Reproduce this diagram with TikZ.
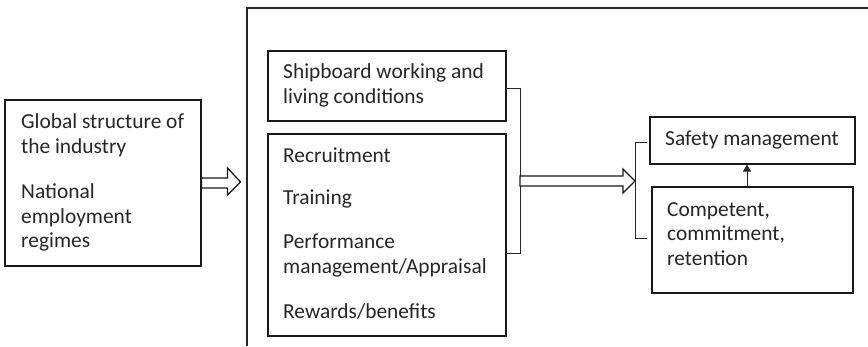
\documentclass[tikz,border=0pt]{standalone}
\usepackage{fontspec}
\setmainfont{Carlito}
\usetikzlibrary{calc,arrows.meta}
\begin{document}
\begin{tikzpicture}[x=1pt,y=-1pt,
  box/.style={draw=black!90,line width=1.1pt,inner sep=0pt},
  txt/.style={anchor=base west,inner sep=0pt,font=\fontsize{21.4}{25}\selectfont,text=black!85},
  hollow/.style={draw=black!90,line width=1.3pt,fill=white,line join=miter},
  brk/.style={draw=black!85,line width=1pt}]
\useasboundingbox (0,0) rectangle (868,346);

% outer frame, open towards the bottom and right
\coordinate (fbl) at (247,346);
\coordinate (ftl) at (247,8);
\coordinate (ftr) at (868,8);
\draw[line width=1.4pt,black!85] (fbl) -- (ftl) -- (ftr);

% boxes
\node[box,minimum width=196pt,minimum height=166pt] (global) at (103,183) {};
\node[box,minimum width=238pt,minimum height=70pt] (ship) at (387,86) {};
\node[box,minimum width=238pt,minimum height=202pt] (hrm) at (387,235) {};
\node[box,minimum width=205pt,minimum height=47pt] (safety) at (752.5,140.5) {};
\node[box,minimum width=201pt,minimum height=106pt] (comp) at (752.5,240) {};

% texts
\node[txt] (g1) at (21,128) {Global structure of};
\node[txt] (g2) at (21,153) {the industry};
\node[txt] (g3) at (21,198) {National};
\node[txt] (g4) at (21,223) {employment};
\node[txt] (g5) at (21,247) {regimes};

\node[txt] (s1) at (283,78) {Shipboard working and};
\node[txt] (s2) at (283,103) {living conditions};

\node[txt] (h1) at (283,162) {Recruitment};
\node[txt] (h2) at (283,204) {Training};
\node[txt] (h3) at (283,248) {Performance};
\node[txt] (h4) at (283,273) {management/Appraisal};
\node[txt] (h5) at (283,318) {Rewards/benefits};

\node[txt] (sm) at (665,145) {Safety management};
\node[txt] (c1) at (667,216) {Competent,};
\node[txt] (c2) at (667,240) {commitment,};
\node[txt] (c3) at (667,265) {retention};

% hollow arrow from the context box into the frame
\draw[hollow] ($(global.east)+(0,-5)$) -- ++(26,0) -- ++(0,-10) -- ++(13,14) -- ++(-13,13)
  -- ++(0,-7) -- ++(-26,0) -- cycle;

% bracket grouping the two practice boxes
\coordinate (bt) at (506,88);
\coordinate (bb) at (506,253);
\draw[brk] (bt) -- (520,88) -- (520,253) -- (bb);

% hollow arrow towards the outcomes
\coordinate (a2s) at (520,181);
\draw[hollow] ($(a2s)+(0,-5)$) -- (623,176) -- (623,169) -- (635,181) -- (623,193) -- (623,186)
  -- ($(a2s)+(0,5)$) -- cycle;

% bracket grouping the outcomes
\draw[brk] (647,142) -- (635,142) -- (635,238) -- (647,238);

% competence supports safety
\draw[line width=0.9pt,black!85,-{Triangle[length=7pt,width=8pt]}] (comp.north -| 747,0) -- (safety.south -| 747,0);
\end{tikzpicture}
\end{document}
